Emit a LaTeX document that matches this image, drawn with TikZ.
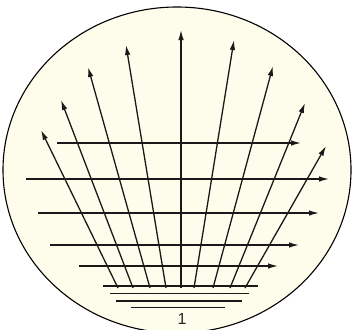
\documentclass[tikz,border=0pt]{standalone}
\usepackage{fontspec}
\setmainfont{Liberation Sans}
\usetikzlibrary{arrows.meta}

\definecolor{paper}{RGB}{254,253,236}

\begin{document}
\begin{tikzpicture}[x=1pt, y=-1pt, >={Latex[length=10pt, width=5.5pt]},
    ray/.style={->, line width=1.3pt, black!90}]
  \useasboundingbox (0,0) rectangle (352,329);

  % Field of view
  \draw[line width=1.1pt, fill=paper] (177,170) ellipse [x radius=174, y radius=163];

  % Horizontal rays
  \foreach \y/\xa/\xb in {143/57/301, 179/26/329, 213/38/319, 245/50/299, 266/79/278}
    \draw[ray] (\xa,\y) -- (\xb,\y);

  % Fan of rays
  \foreach \xa/\xb/\yb in {118/41/130, 133/61/100, 150/88/67, 166/126/45,
                           181/181/30, 194/234/40, 213/273/66, 230/305/103, 245/326/146}
    \draw[ray] (\xa,288) -- (\xb,\yb);

  % Base lines
  \draw[line width=1.3pt, black!90] (103,286) -- (258,286);
  \draw[line width=1.5pt, black!90] (110,293.5) -- (249,293.5);
  \draw[line width=1.3pt, black!90] (116,301) -- (242,301);
  \draw[line width=1.3pt, black!90] (131,307.5) -- (225,307.5);

  % Label
  \node[font=\fontsize{16}{18}\selectfont, black!85] (lbl) at (182,319) {1};
\end{tikzpicture}
\end{document}
